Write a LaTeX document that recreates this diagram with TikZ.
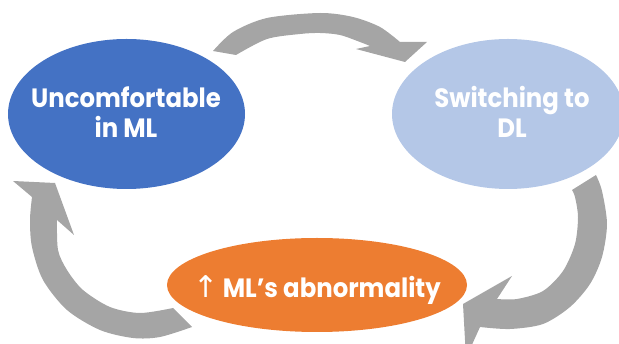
\documentclass[tikz,border=0pt]{standalone}
\usepackage{fontspec}
\newfontfamily\pop{Poppins}[FakeStretch=0.92]
\newfontfamily\dejavu{DejaVu Sans}
\usetikzlibrary{shapes.geometric}
\definecolor{cblue}{HTML}{4472C4}
\definecolor{clight}{HTML}{B4C7E7}
\definecolor{corange}{HTML}{ED7D31}
\definecolor{cgray}{HTML}{A5A5A5}
\begin{document}
\begin{tikzpicture}[x=1pt,y=-1pt,
  bubble/.style={ellipse, inner sep=0pt, outer sep=0pt},
  label text/.style={inner sep=0pt, text=white, align=center,
    font=\pop\bfseries\fontsize{26.5}{30}\selectfont},
  cyclearrow/.style={fill=cgray}]
\useasboundingbox (0,0) rectangle (619,344);
\begin{scope}
\clip (0,0) rectangle (619,344);
% top arrow
\fill[cyclearrow] plot[smooth] coordinates {(213,51) (233,32) (267,18) (320,13) (353,17) (380,27) (400,42)}
  -- (427,42) -- (405,62) -- (356,49)
  -- plot[smooth] coordinates {(370,46) (360,42) (340,35) (320,33) (300,34) (267,39) (236,55)} -- cycle;
% right arrow
\fill[cyclearrow] plot[smooth] coordinates {(596,175) (602,191) (607,224) (602,257) (590,284) (570,307) (543,324) (510,329) (480,327)}
  -- (466,358) -- (463,304) -- (512,276)
  -- plot[smooth] coordinates {(497,299) (517,299) (543,291) (563,271) (575,244) (578,217) (575,197) (572,190)} -- cycle;
% left arrow
\fill[cyclearrow] plot[smooth] coordinates {(32,197) (30,220) (32,247) (43,280) (67,310) (100,330) (133,338) (160,337) (192,327)}
  -- plot[smooth] coordinates {(173,308) (140,313) (110,307) (83,290) (67,270) (58,250) (57,220)}
  -- (74,235) -- (55,183) -- (13,181) -- cycle;
\end{scope}
\node[bubble, fill=cblue, minimum width=237pt, minimum height=150pt] (ml) at (126.5,114) {};
\node[bubble, fill=clight, minimum width=232pt, minimum height=150pt] (dl) at (508,114) {};
\node[bubble, fill=corange, minimum width=300pt, minimum height=94pt] (ab) at (317,285) {};
\node[label text] (mltext) at (126,112) {Uncomfortable\\in ML};
\node[label text] (dltext) at (512,112) {Switching to\\DL};
\node[label text, anchor=base] (abtext) at (317,298) {{\dejavu\mdseries\fontsize{30}{30}\selectfont↑}\,ML’s abnormality};
\end{tikzpicture}
\end{document}
